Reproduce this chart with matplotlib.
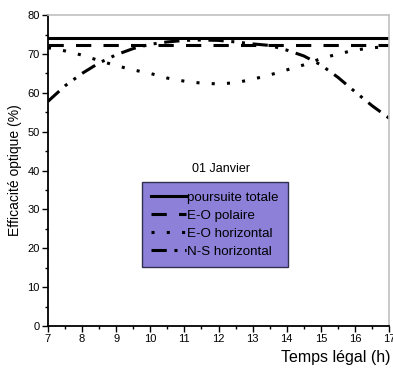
import matplotlib
matplotlib.use("Agg")
import matplotlib.pyplot as plt
from matplotlib.ticker import MultipleLocator

plt.rcParams['font.family'] = ['Liberation Sans', 'DejaVu Sans']

hours = [7, 7.5, 8, 8.5, 9, 9.5, 10, 10.5, 11, 11.5, 12, 12.5, 13, 13.5, 14, 14.5, 15, 15.5, 16, 16.5, 17]
poursuite_totale = [74.0] * 21
eo_polaire = [72.3] * 21
eo_horizontal = [71.6, 70.8, 69.7, 68.3, 67.0, 65.9, 65.0, 63.8, 63.0, 62.5, 62.3, 62.6, 63.5, 64.6, 65.9, 67.2, 68.8, 70.0, 71.0, 71.6, 71.9]
ns_horizontal = [57.8, 61.8, 65.0, 67.7, 69.8, 71.4, 72.5, 73.1, 73.5, 73.6, 73.5, 73.1, 72.6, 72.2, 71.0, 69.5, 67.2, 64.0, 60.3, 56.7, 53.5]

labels = ["poursuite totale", "E-O polaire", "E-O horizontal", "N-S horizontal"]

fig = plt.figure(figsize=(3.93, 3.69), dpi=100)
ax = fig.add_axes([0.122, 0.1165, 0.868, 0.8425])

lw = 2.2
ax.plot(hours, poursuite_totale, color='black', lw=lw, ls='-', label=labels[0])
ax.plot(hours, eo_polaire, color='black', lw=lw, ls=(0, (5, 4)), label=labels[1])
ax.plot(hours, eo_horizontal, color='black', lw=lw, ls=(0, (1, 4)), label=labels[2])
ax.plot(hours, ns_horizontal, color='black', lw=lw, ls=(0, (5, 2.5, 1, 2.5, 1, 2.5)), label=labels[3])

ax.set_xlim(7, 17)
ax.set_ylim(0, 80)
ax.xaxis.set_major_locator(MultipleLocator(1))
ax.xaxis.set_minor_locator(MultipleLocator(0.5))
ax.yaxis.set_major_locator(MultipleLocator(10))
ax.yaxis.set_minor_locator(MultipleLocator(5))
ax.tick_params(which='major', direction='out', length=4, width=1, labelsize=8, pad=2)
ax.tick_params(which='minor', direction='out', length=2.5, width=1)

for s in ['left', 'bottom']:
    ax.spines[s].set_linewidth(1.3)
    ax.spines[s].set_color('black')
for s in ['top', 'right']:
    ax.spines[s].set_color('#c0c0c0')
    ax.spines[s].set_linewidth(1.2)

ax.set_ylabel("Efficacité optique (%)", fontsize=10, labelpad=4)
ax.text(1.003, -0.078, "Temps légal (h)", transform=ax.transAxes, ha='right', va='top', fontsize=11.5)

ax.text(0.508, 0.505, "01 Janvier", transform=ax.transAxes, ha='center', va='center', fontsize=9)

leg = ax.legend(loc='upper left', bbox_to_anchor=(0.275, 0.463), fontsize=9.6, frameon=True,
                fancybox=False, handlelength=2.6, handletextpad=0.1, labelspacing=0.42,
                borderpad=0.7, borderaxespad=0)
frame = leg.get_frame()
frame.set_facecolor('#8c80d8')
frame.set_edgecolor('#303050')
frame.set_alpha(1)
frame.set_linewidth(1.0)

fig.savefig("out.png", dpi=100)
